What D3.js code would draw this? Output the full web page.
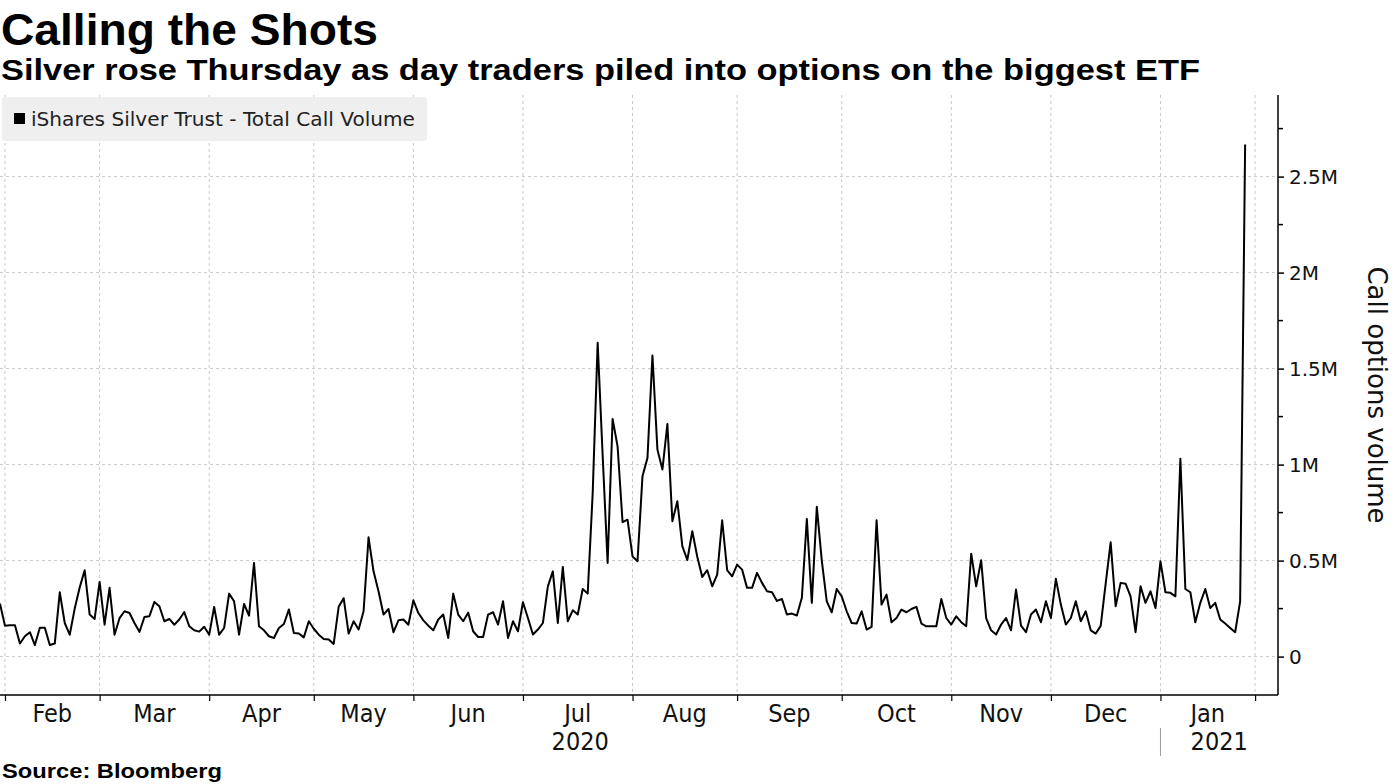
<!DOCTYPE html>
<html>
<head>
<meta charset="utf-8">
<script src="https://cdn.jsdelivr.net/npm/d3@7"></script>
<style>
  html, body { margin: 0; padding: 0; background: #fff; }
  svg { display: block; }
</style>
</head>
<body>
<svg id="chart" width="1395" height="784"></svg>
<script>
// ---- Data (values in millions of contracts), trading days from Jan 31 2020 to Jan 28 2021 ----
const callVolume = [
  0.276,0.161,0.163,0.163,0.068,0.106,0.127,0.060,0.150,0.150,
  0.060,0.068,0.335,0.175,0.114,0.250,0.360,0.450,0.219,0.196,
  0.389,0.166,0.358,0.114,0.200,0.236,0.227,0.175,0.129,0.206,
  0.210,0.285,0.262,0.184,0.196,0.166,0.193,0.232,0.158,0.137,
  0.130,0.155,0.114,0.259,0.114,0.149,0.328,0.288,0.114,0.274,
  0.213,0.488,0.158,0.137,0.106,0.097,0.149,0.170,0.245,0.123,
  0.120,0.100,0.184,0.145,0.114,0.092,0.089,0.066,0.259,0.304,
  0.120,0.184,0.141,0.236,0.621,0.444,0.340,0.219,0.248,0.127,
  0.189,0.193,0.166,0.293,0.227,0.189,0.161,0.137,0.193,0.219,
  0.097,0.328,0.219,0.184,0.229,0.132,0.102,0.102,0.219,0.231,
  0.167,0.288,0.097,0.184,0.132,0.283,0.201,0.115,0.141,0.175,
  0.366,0.444,0.175,0.467,0.184,0.241,0.219,0.352,0.328,0.850,
  1.634,1.050,0.488,1.238,1.095,0.700,0.713,0.522,0.497,0.939,
  1.035,1.568,1.078,0.974,1.212,0.705,0.809,0.575,0.503,0.653,
  0.520,0.415,0.450,0.366,0.427,0.710,0.450,0.418,0.479,0.453,
  0.358,0.358,0.436,0.384,0.340,0.335,0.290,0.300,0.219,0.224,
  0.214,0.306,0.717,0.280,0.780,0.500,0.288,0.231,0.352,0.314,
  0.236,0.175,0.172,0.236,0.141,0.155,0.710,0.271,0.323,0.179,
  0.201,0.245,0.231,0.248,0.259,0.172,0.158,0.158,0.158,0.300,
  0.201,0.167,0.210,0.179,0.158,0.536,0.366,0.502,0.201,0.137,
  0.115,0.167,0.201,0.137,0.349,0.161,0.127,0.219,0.245,0.179,
  0.288,0.201,0.405,0.271,0.167,0.201,0.288,0.184,0.236,0.137,
  0.120,0.160,0.380,0.595,0.262,0.384,0.380,0.314,0.127,0.366,
  0.280,0.340,0.253,0.496,0.335,0.332,0.314,1.030,0.352,0.335,
  0.179,0.280,0.352,0.253,0.280,0.193,0.172,0.149,0.127,0.288,
  2.667
];
const monthLabels   = ["Feb","Mar","Apr","May","Jun","Jul","Aug","Sep","Oct","Nov","Dec","Jan"];
const monthStartIdx = [1,20,42,63,83,105,127,148,169,191,211,233,252];
const yearLabels    = ["2020","2021"];
const yearStartIdx  = [0,233];
const yMajorTicks   = [0,0.5,1,1.5,2,2.5];
const yMinorTicks   = [0.25,0.75,1.25,1.75,2.25,2.75];
const titleText     = "Calling the Shots";
const subtitleText  = "Silver rose Thursday as day traders piled into options on the biggest ETF";
const legendText    = "iShares Silver Trust - Total Call Volume";
const yAxisTitle    = "Call options volume";
const sourceText    = "Source: Bloomberg";

// ---- Layout ----
const svg = d3.select("#chart");
const plot = {left: 0, right: 1278, top: 95, bottom: 695};
const xMaxIdx = 256.6;

const x = d3.scaleLinear().domain([0, xMaxIdx]).range([plot.left, plot.right]);
const y = d3.scaleLinear().domain([-0.2, 2.925]).range([plot.bottom, plot.top]);

const gridColor = "#c9c9c9";

// Horizontal gridlines
svg.append("g").selectAll("line").data(yMajorTicks).join("line")
  .attr("x1", plot.left).attr("x2", plot.right)
  .attr("y1", d => y(d)).attr("y2", d => y(d))
  .attr("stroke", gridColor).attr("stroke-width", 1).attr("stroke-dasharray", "3,3");

// Vertical gridlines
svg.append("g").selectAll("line").data(monthStartIdx).join("line")
  .attr("x1", d => x(d)).attr("x2", d => x(d))
  .attr("y1", plot.top).attr("y2", plot.bottom)
  .attr("stroke", gridColor).attr("stroke-width", 1).attr("stroke-dasharray", "3,3");

// Legend
const lg = svg.append("g");
lg.append("rect").attr("x", 2).attr("y", 97).attr("width", 425).attr("height", 44)
  .attr("rx", 3).attr("fill", "#efefef");
lg.append("rect").attr("x", 14).attr("y", 113).attr("width", 11).attr("height", 11).attr("fill", "#000");
lg.append("text").attr("x", 31).attr("y", 126)
  .attr("font-family", "DejaVu Sans, Verdana, sans-serif").attr("font-size", 19)
  .attr("textLength", 384).attr("lengthAdjust", "spacingAndGlyphs")
  .attr("fill", "#222").text(legendText);

// Line
const line = d3.line().x((d, i) => x(i)).y(d => y(d));
svg.append("path").datum(callVolume)
  .attr("d", line).attr("fill", "none").attr("stroke", "#000")
  .attr("stroke-width", 2).attr("stroke-linejoin", "round");

// Right axis
const fmt = d => d === 0 ? "0" : d + "M";
const yAxisG = svg.append("g").attr("transform", `translate(${plot.right},0)`)
  .call(d3.axisRight(y).tickValues(yMajorTicks).tickSize(6).tickPadding(5).tickFormat(fmt));
yAxisG.select(".domain").remove();
yAxisG.selectAll("text").attr("font-family", "DejaVu Sans, Verdana, sans-serif")
  .attr("font-size", 20).attr("fill", "#111");
yAxisG.selectAll(".tick line").attr("stroke", "#000").attr("stroke-width", 1.5);
svg.append("g").selectAll("line").data(yMinorTicks).join("line")
  .attr("x1", plot.right).attr("x2", plot.right + 5)
  .attr("y1", d => y(d)).attr("y2", d => y(d))
  .attr("stroke", "#000").attr("stroke-width", 1.5);
svg.append("line").attr("x1", plot.right).attr("x2", plot.right)
  .attr("y1", plot.top).attr("y2", plot.bottom)
  .attr("stroke", "#000").attr("stroke-width", 1.5);

// Bottom axis
const xAxisG = svg.append("g").attr("transform", `translate(0,${plot.bottom})`)
  .call(d3.axisBottom(x).tickValues(monthStartIdx).tickSize(6).tickFormat(""));
xAxisG.select(".domain").remove();
xAxisG.selectAll(".tick line").attr("stroke", "#000").attr("stroke-width", 1.2);
svg.append("line").attr("x1", plot.left).attr("x2", plot.right)
  .attr("y1", plot.bottom).attr("y2", plot.bottom)
  .attr("stroke", "#000").attr("stroke-width", 1.5);

const narrowFont = "'Liberation Sans Narrow', 'DejaVu Sans Condensed', 'Roboto Condensed', sans-serif";
svg.append("g").selectAll("text").data(monthLabels).join("text")
  .attr("x", (d, i) => x((monthStartIdx[i] + monthStartIdx[i + 1]) / 2))
  .attr("y", 722)
  .attr("text-anchor", "middle")
  .attr("font-family", narrowFont).attr("font-size", 25).attr("fill", "#111")
  .text(d => d);

// Year labels
const yearEnds = [yearStartIdx[1], xMaxIdx];
svg.append("g").selectAll("text").data(yearLabels).join("text")
  .attr("x", (d, i) => x((yearStartIdx[i] + yearEnds[i]) / 2))
  .attr("y", 750)
  .attr("text-anchor", "middle")
  .attr("font-family", narrowFont).attr("font-size", 25).attr("fill", "#111")
  .text(d => d);
svg.append("line")
  .attr("x1", x(yearStartIdx[1])).attr("x2", x(yearStartIdx[1]))
  .attr("y1", 728).attr("y2", 756)
  .attr("stroke", "#999").attr("stroke-width", 1);

// Right axis title
svg.append("text")
  .attr("transform", `translate(1368,${(plot.top + plot.bottom) / 2 + 0}) rotate(90)`)
  .attr("text-anchor", "middle")
  .attr("font-family", "DejaVu Sans, Verdana, sans-serif").attr("font-size", 26).attr("fill", "#111")
  .text(yAxisTitle);

// Title, subtitle, source
svg.append("text").attr("x", 1).attr("y", 45)
  .attr("font-family", "'Liberation Sans', Arial, sans-serif").attr("font-weight", "bold")
  .attr("font-size", 45).attr("fill", "#000")
  .attr("textLength", 377).attr("lengthAdjust", "spacingAndGlyphs")
  .text(titleText);
svg.append("text").attr("x", 1).attr("y", 80)
  .attr("font-family", "'Liberation Sans', Arial, sans-serif").attr("font-weight", "bold")
  .attr("font-size", 29).attr("fill", "#000")
  .attr("textLength", 1199).attr("lengthAdjust", "spacingAndGlyphs")
  .text(subtitleText);
svg.append("text").attr("x", 2).attr("y", 778)
  .attr("font-family", "'Liberation Sans', Arial, sans-serif").attr("font-weight", "bold")
  .attr("font-size", 20).attr("fill", "#000")
  .attr("textLength", 220).attr("lengthAdjust", "spacingAndGlyphs")
  .text(sourceText);
</script>
</body>
</html>
